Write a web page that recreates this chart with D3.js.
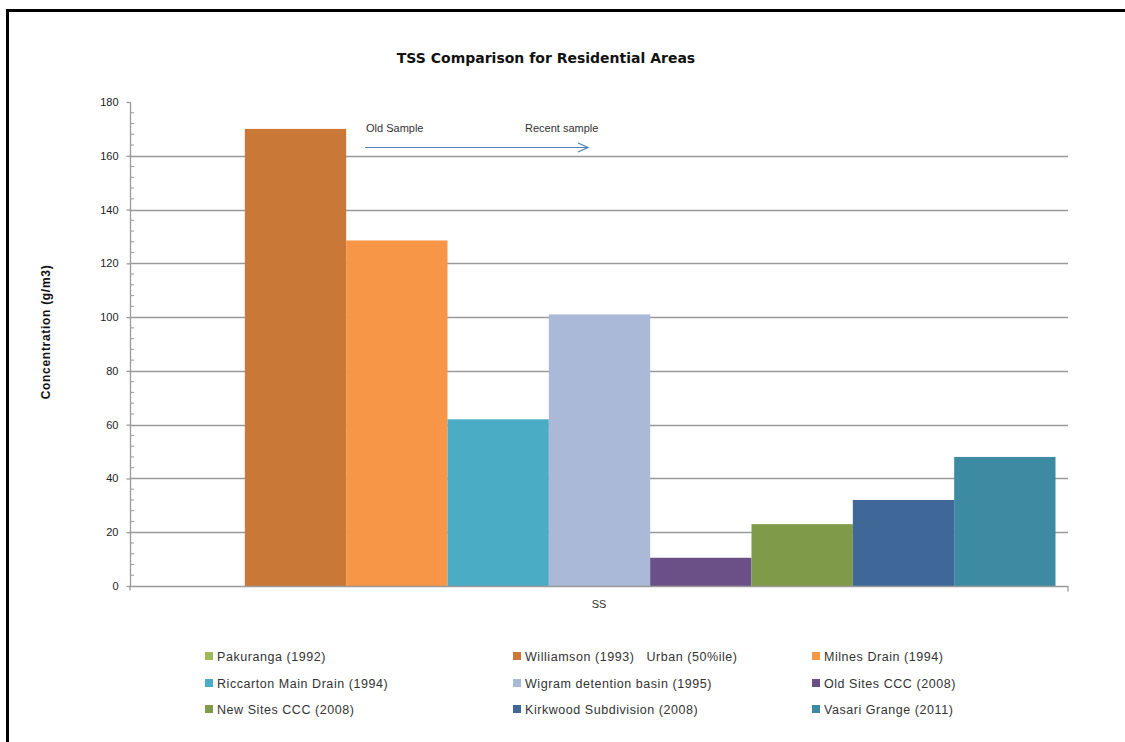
<!DOCTYPE html>
<html>
<head>
<meta charset="utf-8">
<script src="https://cdn.jsdelivr.net/npm/d3@7"></script>
<style>
  html, body { margin: 0; padding: 0; background: #fff; }
  svg { display: block; font-family: "Liberation Sans", Arial, sans-serif; }
</style>
</head>
<body>
<svg id="chart" width="1125" height="742"></svg>
<script>
// TSS concentrations (g/m3) by study, single category "SS"
const categories = ["SS"];
const seriesNames = [
  "Pakuranga (1992)",
  "Williamson (1993)   Urban (50%ile)",
  "Milnes Drain (1994)",
  "Riccarton Main Drain (1994)",
  "Wigram detention basin (1995)",
  "Old Sites CCC (2008)",
  "New Sites CCC (2008)",
  "Kirkwood Subdivision (2008)",
  "Vasari Grange (2011)"
];
const seriesValues = [0, 170, 128.5, 62, 101, 10.5, 23, 32, 48];
const seriesColors = [
  "#9bbb59", "#c97838", "#f79646", "#4bacc6", "#aab9d8",
  "#6a5087", "#7f9a48", "#3f6899", "#3c8ba3"
];
const yTicks = [0, 20, 40, 60, 80, 100, 120, 140, 160, 180];

const svg = d3.select("#chart");

// outer frame
svg.append("rect")
  .attr("x", 7.5).attr("y", 10.5)
  .attr("width", 1300).attr("height", 900)
  .attr("fill", "none").attr("stroke", "#000").attr("stroke-width", 3);

const plot = { left: 130, right: 1068, top: 102, bottom: 586 };

const y = d3.scaleLinear().domain([0, 180]).range([plot.bottom, plot.top]);
const x0 = d3.scaleBand().domain(categories).range([plot.left, plot.right]).padding(0);
const x1 = d3.scaleBand().domain(seriesNames)
  .range([13.5, x0.bandwidth() - 12.5]).padding(0);

// gridlines
svg.append("g").selectAll("line")
  .data(yTicks.filter(d => d > 0 && d < 180))
  .join("line")
  .attr("x1", plot.left).attr("x2", plot.right)
  .attr("y1", d => Math.round(y(d)) + 0.5).attr("y2", d => Math.round(y(d)) + 0.5)
  .attr("stroke", "#9a9a9a").attr("stroke-width", 1.3);

// bars
const groups = svg.append("g").selectAll("g")
  .data(categories).join("g")
  .attr("transform", d => `translate(${x0(d)},0)`);
groups.selectAll("rect")
  .data(() => seriesNames.map((n, i) => ({ name: n, value: seriesValues[i], color: seriesColors[i] })))
  .join("rect")
  .attr("x", d => x1(d.name))
  .attr("width", x1.bandwidth())
  .attr("y", d => y(d.value))
  .attr("height", d => y(0) - y(d.value))
  .attr("fill", d => d.color);

// y axis with major ticks on the left and minor ticks on the right
const yAxis = d3.axisLeft(y).tickValues(yTicks).tickSize(4).tickPadding(8);
const gy = svg.append("g").attr("transform", `translate(${plot.left + 0.5},0)`).call(yAxis);
gy.attr("font-family", null).attr("font-size", null);
gy.select(".domain").attr("stroke", "#9a9a9a").attr("stroke-width", 1.3).attr("d", `M0,${plot.top}V${plot.bottom}`);
gy.selectAll(".tick line").attr("stroke", "#9a9a9a").attr("stroke-width", 1.3);
gy.selectAll(".tick text").attr("fill", "#222").attr("font-size", 11);
const minor = d3.range(0, 181, 4).filter(v => v % 20 !== 0);
svg.append("g").selectAll("line").data(minor).join("line")
  .attr("x1", plot.left).attr("x2", plot.left + 4)
  .attr("y1", d => y(d)).attr("y2", d => y(d))
  .attr("stroke", "#9a9a9a").attr("stroke-width", 1);

// x axis
const xAxis = d3.axisBottom(x0).tickSize(0).tickPadding(14);
const gx = svg.append("g").attr("transform", `translate(0,${plot.bottom + 0.5})`).call(xAxis);
gx.attr("font-family", null).attr("font-size", null);
gx.select(".domain").attr("stroke", "#9a9a9a").attr("stroke-width", 1.3)
  .attr("d", `M${plot.left},4V0H${plot.right}V5`);
gx.selectAll(".tick text").attr("fill", "#333").attr("font-size", 11);

// title
svg.append("text")
  .attr("x", 546).attr("y", 63)
  .attr("text-anchor", "middle")
  .attr("font-family", "'DejaVu Sans', sans-serif")
  .attr("font-weight", "bold").attr("font-size", 14)
  .attr("fill", "#111")
  .text("TSS Comparison for Residential Areas");

// y axis title
svg.append("text")
  .attr("transform", `translate(50,${332}) rotate(-90)`)
  .attr("text-anchor", "middle")
  .attr("font-weight", "bold").attr("font-size", 12)
  .attr("letter-spacing", 0.7)
  .attr("fill", "#111")
  .text("Concentration (g/m3)");

// sample age annotation
svg.append("text").attr("x", 366).attr("y", 132)
  .attr("font-size", 11).attr("fill", "#333").text("Old Sample");
svg.append("text").attr("x", 525).attr("y", 132)
  .attr("font-size", 11).attr("fill", "#333").text("Recent sample");
svg.append("line")
  .attr("x1", 365).attr("x2", 587).attr("y1", 147.5).attr("y2", 147.5)
  .attr("stroke", "#4f81bd").attr("stroke-width", 1.2);
svg.append("path")
  .attr("d", "M578,143L588,147.5L578,152")
  .attr("fill", "none").attr("stroke", "#4f81bd").attr("stroke-width", 1.2);

// legend
const legendCols = [205, 513, 812];
const legendRows = [656, 683, 709];
const legend = svg.append("g").selectAll("g")
  .data(seriesNames.map((n, i) => ({ name: n, color: seriesColors[i], i })))
  .join("g")
  .attr("transform", d => `translate(${legendCols[d.i % 3]},${legendRows[Math.floor(d.i / 3)]})`);
legend.append("rect")
  .attr("x", 0).attr("y", -4).attr("width", 8).attr("height", 8)
  .attr("fill", d => d.color);
legend.append("text")
  .attr("x", 12).attr("y", 4.5)
  .attr("font-size", 12.5).attr("letter-spacing", 0.55).attr("fill", "#333")
  .style("white-space", "pre")
  .text(d => d.name);
</script>
</body>
</html>
